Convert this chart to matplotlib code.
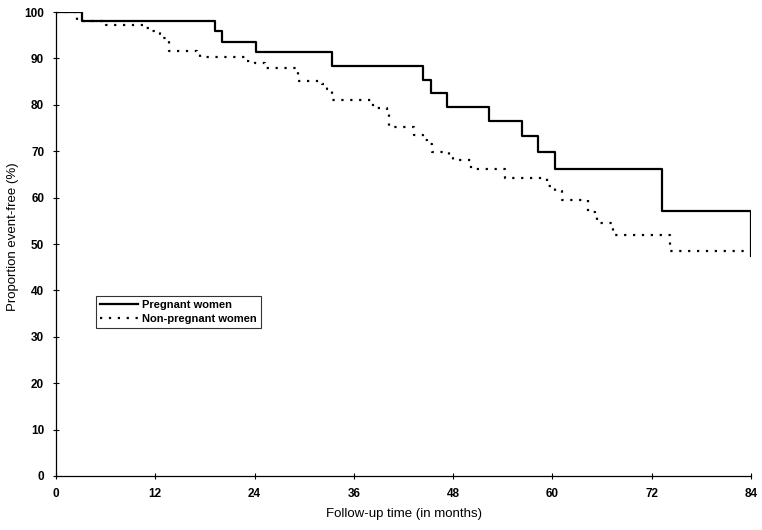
import matplotlib
matplotlib.use("Agg")
import matplotlib.pyplot as plt

# Pregnant women (solid step curve)
months_preg = [0, 3.2, 19.2, 20.1, 24.2, 33.3, 44.3, 45.3, 47.3, 52.3, 56.3, 58.3, 60.3, 73.2, 84]
surv_preg = [100, 98.1, 95.8, 93.6, 91.3, 88.4, 85.3, 82.5, 79.6, 76.5, 73.3, 69.8, 66.2, 57.2, 47.5]

# Non-pregnant women (dotted step curve)
months_nonpreg = [0, 2.5, 6.0, 10.5, 11.6, 12.6, 12.9, 13.6, 17.0, 17.4, 23.0, 24.0, 25.2,
                  29.2, 32.2, 32.8, 33.3, 38.3, 40.0, 40.2, 43.3, 44.3, 44.8, 45.5, 47.5,
                  48.0, 50.2, 54.3, 59.4, 60.3, 61.2, 64.3, 65.1, 65.4, 67.3, 74.2, 84]
surv_nonpreg = [100, 98.1, 97.2, 96.5, 95.9, 95.2, 94.3, 91.6, 91.0, 90.4, 89.4, 89.0, 87.9,
                85.1, 84.4, 83.5, 81.0, 79.4, 78.7, 75.3, 73.5, 72.5, 71.5, 69.9, 68.7,
                68.1, 66.2, 64.2, 62.4, 61.5, 59.5, 57.0, 56.0, 54.6, 51.9, 48.5, 48.5]

x_ticks = [0, 12, 24, 36, 48, 60, 72, 84]
y_ticks = [0, 10, 20, 30, 40, 50, 60, 70, 80, 90, 100]
labels = ["Pregnant women", "Non-pregnant women"]

plt.rcParams['font.family'] = ['Liberation Sans', 'DejaVu Sans']

fig = plt.figure(figsize=(7.62, 5.30), dpi=100)
ax = fig.add_axes([56/762, 1-476/530, (751-56)/762, (476-12)/530])

ax.plot(months_preg, surv_preg, drawstyle='steps-post', color='black', lw=1.6,
        label=labels[0])
ax.plot(months_nonpreg, surv_nonpreg, drawstyle='steps-post', color='black', lw=1.6,
        linestyle=(0, (1, 3)), label=labels[1])

ax.set_xlim(0, 84)
ax.set_ylim(0, 100)
ax.set_xticks(x_ticks)
ax.set_yticks(y_ticks)
ax.tick_params(axis='both', direction='inout', length=5, width=0.8, labelsize=8.5)
for t in ax.get_xticklabels() + ax.get_yticklabels():
    t.set_fontweight('bold')
ax.tick_params(axis='x', pad=6)
ax.tick_params(axis='y', pad=6)

for s in ['top', 'right']:
    ax.spines[s].set_visible(False)
ax.spines['left'].set_linewidth(0.9)
ax.spines['bottom'].set_linewidth(0.9)

ax.set_xlabel("Follow-up time (in months)", fontsize=9.5, labelpad=6)
ax.set_ylabel("Proportion event-free (%)", fontsize=9.5)
ax.yaxis.set_label_coords(-0.053, 0.515)

leg = ax.legend(loc='upper left', bbox_to_anchor=(40/695, (476-296)/464),
                frameon=True, fancybox=False, edgecolor='black', fontsize=8,
                handlelength=3.4, borderpad=0.35, labelspacing=0.4, handletextpad=0.4,
                borderaxespad=0)
leg.get_frame().set_linewidth(0.8)
for t in leg.get_texts():
    t.set_fontweight('bold')

fig.savefig("out.png", dpi=100)
